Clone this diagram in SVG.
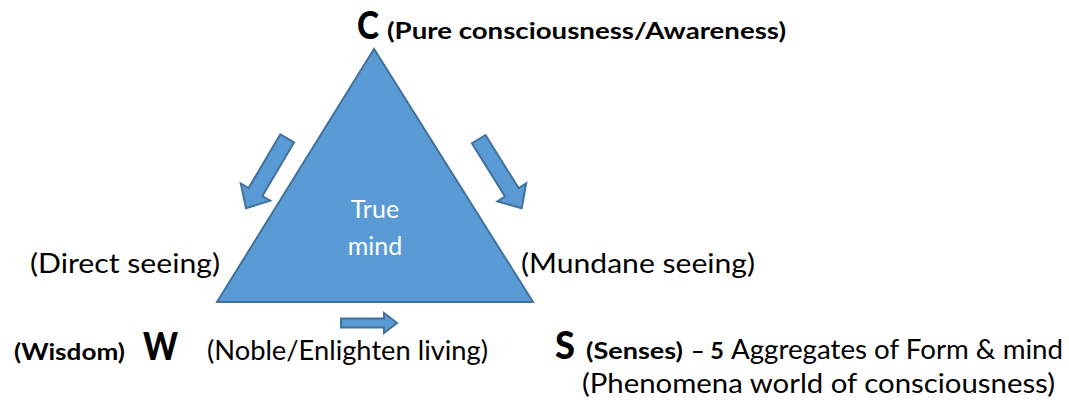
<svg xmlns="http://www.w3.org/2000/svg" width="1069" height="400" viewBox="0 0 1069 400">
<style>
.t{font-family:Lato,"Open Sans","Liberation Sans",sans-serif;fill:#000;}
.b{font-weight:bold;}
.r{font-size:27px;}
.m{font-size:22px;}
.big{font-size:37px;font-weight:900;}
.shape{fill:#5B9BD5;stroke:#41719C;stroke-width:2;stroke-linejoin:miter;}
.w{fill:#fff;font-size:25px;font-family:Lato,"Open Sans","Liberation Sans",sans-serif;}
</style>
<rect width="1069" height="400" fill="#fff"/>
<g id="triangle">
<polygon class="shape" points="374,49 217,302 533,302"/>
<text class="w" x="375" y="218" text-anchor="middle">True</text>
<text class="w" x="375" y="255" text-anchor="middle">mind</text>
</g>
<g id="connectors">
<polygon class="shape" stroke-width="1.5" points="294.1,142.3 262.4,196.1 270.2,200.7 246,208.3 240.8,183.5 248.6,188.1 280.3,134.3"/>
<polygon class="shape" stroke-width="1.5" points="485.5,135 518.6,188.1 526.2,183.3 521.7,208.3 497.4,201.3 505,196.5 471.9,143.4"/>
<polygon class="shape" stroke-width="1.5" points="341,318.5 384,318.5 384,313 397,323 384,333 384,327.5 341,327.5"/>
</g>
<g id="node-c">
<text class="t big" x="357" y="39" textLength="22" lengthAdjust="spacingAndGlyphs">C</text>
<text class="t b m" x="387" y="39" textLength="399" lengthAdjust="spacingAndGlyphs">(Pure consciousness/Awareness)</text>
</g>
<g id="label-direct">
<text class="t r" x="30" y="273" textLength="190" lengthAdjust="spacingAndGlyphs">(Direct seeing)</text>
</g>
<g id="label-mundane">
<text class="t r" x="521" y="273" textLength="234" lengthAdjust="spacingAndGlyphs">(Mundane seeing)</text>
</g>
<g id="node-w">
<text class="t b m" x="14" y="360" textLength="111" lengthAdjust="spacingAndGlyphs">(Wisdom)</text>
<text class="t big" x="143" y="360" textLength="35" lengthAdjust="spacingAndGlyphs">W</text>
</g>
<g id="label-noble">
<text class="t r" x="207" y="360" textLength="281" lengthAdjust="spacingAndGlyphs">(Noble/Enlighten living)</text>
</g>
<g id="node-s">
<text class="t big" x="555" y="359" textLength="20" lengthAdjust="spacingAndGlyphs">S</text>
<text class="t b m" x="586" y="359" textLength="97" lengthAdjust="spacingAndGlyphs">(Senses)</text>
<text class="t b m" x="691" y="359" textLength="33" lengthAdjust="spacingAndGlyphs">– 5</text>
<text class="t r" x="731" y="359" textLength="332" lengthAdjust="spacingAndGlyphs">Aggregates of Form &amp; mind</text>
<text class="t r" x="582" y="393" textLength="473" lengthAdjust="spacingAndGlyphs">(Phenomena world of consciousness)</text>
</g>
</svg>
